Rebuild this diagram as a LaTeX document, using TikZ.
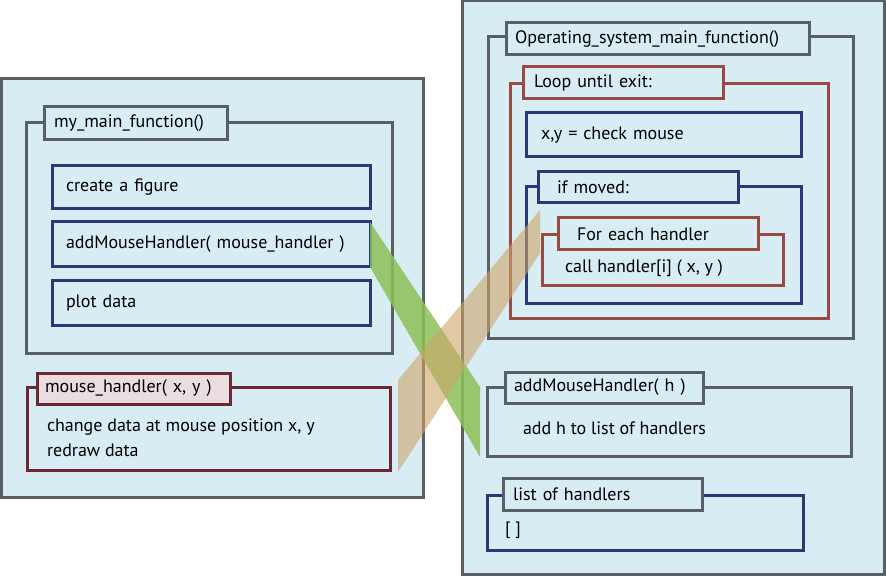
\documentclass[tikz,border=0pt]{standalone}
\usepackage{fontspec}
\setmainfont{PT Sans}
\definecolor{panelfill}{RGB}{215,236,243}
\definecolor{framegray}{RGB}{88,96,100}
\definecolor{codeblue}{RGB}{43,56,120}
\definecolor{loopred}{RGB}{154,72,66}
\definecolor{handlerred}{RGB}{105,40,50}
\definecolor{handlerpink}{RGB}{234,221,226}
\definecolor{bandgreen}{RGB}{140,192,88}
\definecolor{bandtan}{RGB}{205,165,105}
\tikzset{
	every node/.style={font=\fontsize{18}{21}\selectfont,outer sep=0pt},
	panel/.style={draw=framegray,fill=panelfill,line width=3pt,anchor=north west,inner sep=0pt},
	frame/.style={draw=#1,line width=3pt,anchor=north west,inner sep=0pt},
	tab/.style={draw=#1,fill=panelfill,line width=3pt,anchor=north west,align=left,inner ysep=0pt},
	codebox/.style={draw=codeblue,line width=3pt,anchor=north west,align=left,inner ysep=0pt},
	plain/.style={anchor=west,inner sep=0pt,align=left},
	band/.style={fill=#1,fill opacity=0.6}
}
\begin{document}
\begin{tikzpicture}[x=1pt,y=-1pt]
			\useasboundingbox (0,0) rectangle (886,577);
			
			% left side: my program
			\node[panel,minimum width=422,minimum height=418] (user) at (1,79) {};
			\node[frame=framegray,minimum width=366,minimum height=230] (mainf) at (26,123) {};
			\node[tab=framegray,minimum height=33,text width=163pt,inner xsep=10pt] (mainft) at (44,107) {my\_main\_function()};
			\node[codebox,minimum height=43,text width=290pt,inner xsep=14pt] (fig) at (52,166) {create a figure};
			\node[codebox,minimum height=45,text width=290pt,inner xsep=14pt] (addh) at (52,222) {addMouseHandler( mouse\_handler )};
			\node[codebox,minimum height=44,text width=290pt,inner xsep=14pt] (plot) at (52,281) {plot data};
			
			\node[frame=handlerred,minimum width=363,minimum height=83] (mhf) at (27,387) {};
			\node[tab=handlerred,fill=handlerpink,minimum height=31,text width=177pt,inner xsep=8pt] (mht) at (37,373) {mouse\_handler( x, y )};
			\node[plain,font=\fontsize{18}{25}\selectfont] (mhbody) at (47,437.5) {change data at mouse position x, y\\redraw data};
			
			% right side: the operating system
			\node[panel,minimum width=422,minimum height=573] (os) at (462,1) {};
			\node[frame=framegray,minimum width=365,minimum height=301] (osf) at (488,37) {};
			\node[tab=framegray,minimum height=32,text width=285pt,inner xsep=9pt] (osft) at (506,23) {Operating\_system\_main\_function()};
			
			\node[frame=loopred,minimum width=318,minimum height=234] (loopf) at (510,84) {};
			\node[tab=loopred,minimum height=32,text width=178pt,inner xsep=11pt] (loopt) at (523,67) {Loop until exit:};
			\node[codebox,minimum height=44,text width=245pt,inner xsep=15pt] (check) at (526,113) {x,y = check mouse};
			
			\node[frame=codeblue,minimum width=275,minimum height=117] (movf) at (526,187) {};
			\node[tab=codeblue,minimum height=31,text width=162pt,inner xsep=19pt] (movt) at (538,172) {if moved:};
			
			\node[frame=loopred,minimum width=241,minimum height=51] (eachf) at (542,235) {};
			\node[tab=loopred,minimum height=32,text width=162pt,inner xsep=19pt] (eacht) at (558,218) {For each handler};
			\node[plain] (callh) at (565,268) {call handler[i] ( x, y )};
			
			\node[frame=framegray,minimum width=364,minimum height=69] (regf) at (487,387) {};
			\node[tab=framegray,minimum height=31,text width=180pt,inner xsep=9pt] (regt) at (505,372) {addMouseHandler( h )};
			\node[plain] (regbody) at (523,428) {add h to list of handlers};
			
			\node[frame=codeblue,minimum width=316,minimum height=55] (listf) at (487,495) {};
			\node[tab=framegray,minimum height=32,text width=179pt,inner xsep=10pt] (listt) at (503,478) {list of handlers};
			\node[plain] (listbody) at (505,530) {[ ]};
			
			% the two links
			\coordinate (g1) at (480,387);
			\coordinate (g2) at (480,457);
			\coordinate (t1) at (398,380);
			\coordinate (t2) at (398,472);
			\coordinate (t3) at (540,253);
			\coordinate (t4) at (540,210);
			\path[band=bandgreen,fill opacity=0.85] (addh.north east) -- (g1) -- (g2) -- (addh.south east) -- cycle;
			\path[band=bandtan] (t1) -- (t4) -- (t3) -- (t2) -- cycle;
			
			\end{tikzpicture}
\end{document}
